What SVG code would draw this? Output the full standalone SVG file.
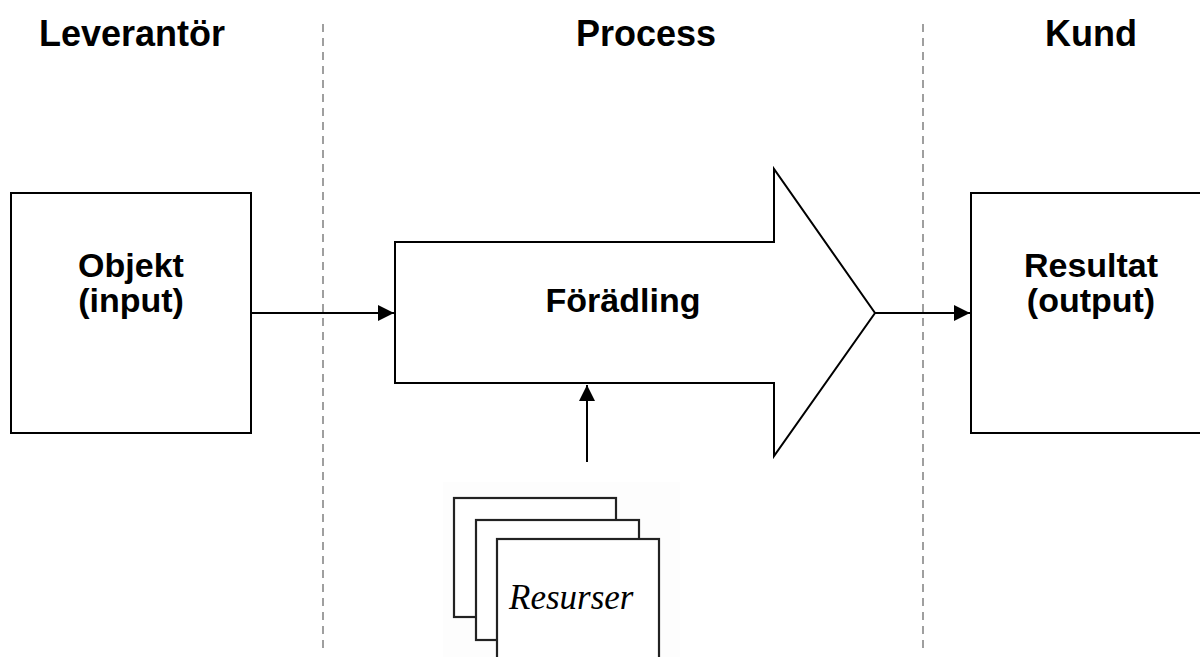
<svg xmlns="http://www.w3.org/2000/svg" width="1200" height="657" viewBox="0 0 1200 657">
  <style>
    .head { font-family: "Liberation Sans", Arial, sans-serif; font-weight: bold; font-size: 36px; fill: #000; text-anchor: middle; }
    .lbl { font-family: "Liberation Sans", Arial, sans-serif; font-weight: bold; font-size: 34px; fill: #000; text-anchor: middle; }
    .res { font-family: "Liberation Serif", "Times New Roman", serif; font-style: italic; font-size: 35px; fill: #000; }
    .box { fill: #fff; stroke: #000; stroke-width: 2; }
    .card { fill: #fff; stroke: #222; stroke-width: 2.2; }
    .divider { stroke: #888; stroke-width: 1.6; stroke-dasharray: 8 6; fill: none; }
    .conn { stroke: #000; stroke-width: 2; fill: none; }
  </style>
  <defs>
    <marker id="arr" viewBox="0 0 16 16" markerWidth="16" markerHeight="16" refX="16" refY="8" orient="auto" markerUnits="userSpaceOnUse">
      <path d="M0,0 L16,8 L0,16 Z" fill="#000"/>
    </marker>
  </defs>
  <rect width="1200" height="657" fill="#fff"/>

  <g id="dividers">
    <line class="divider" x1="323" y1="24" x2="323" y2="650"/>
    <line class="divider" x1="923" y1="24" x2="923" y2="650"/>
  </g>

  <g id="headings">
    <text class="head" x="132" y="46">Leverantör</text>
    <text class="head" x="646" y="46">Process</text>
    <text class="head" x="1091" y="46">Kund</text>
  </g>

  <g id="objekt">
    <rect class="box" x="11" y="193" width="240" height="240"/>
    <text class="lbl" x="131" y="277">Objekt</text>
    <text class="lbl" x="131" y="312">(input)</text>
  </g>

  <g id="foradling">
    <path class="box" d="M395,242 L774,242 L774,169 L875,313 L774,456 L774,383 L395,383 Z"/>
    <text class="lbl" x="623" y="312">Förädling</text>
  </g>

  <g id="resultat">
    <rect class="box" x="971" y="193" width="240" height="240"/>
    <text class="lbl" x="1091" y="277">Resultat</text>
    <text class="lbl" x="1091" y="312">(output)</text>
  </g>

  <g id="resurser">
    <rect x="443" y="482" width="237" height="175" fill="#fdfdfd"/>
    <rect class="card" x="454" y="498" width="162" height="119"/>
    <rect class="card" x="476" y="520" width="163" height="120"/>
    <rect class="card" x="497" y="539" width="162" height="130"/>
    <text class="res" x="509" y="609">Resurser</text>
  </g>

  <g id="connectors">
    <line class="conn" x1="251" y1="313" x2="394" y2="313" marker-end="url(#arr)"/>
    <line class="conn" x1="875" y1="313" x2="970" y2="313" marker-end="url(#arr)"/>
    <line class="conn" x1="587" y1="462" x2="587" y2="385" marker-end="url(#arr)"/>
  </g>
</svg>
